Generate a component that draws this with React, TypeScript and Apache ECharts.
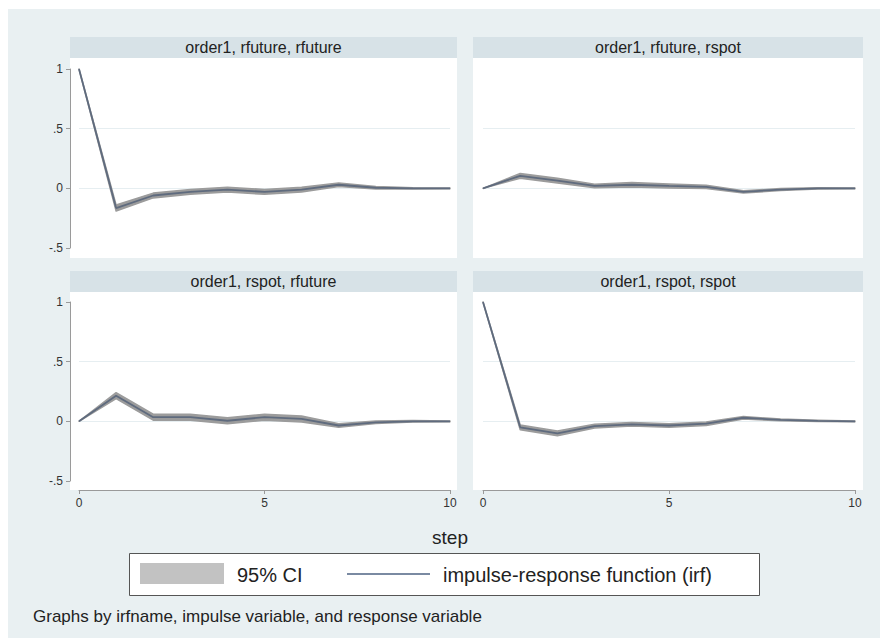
import React, { useEffect, useRef } from "react";
import * as echarts from "echarts";

const steps = [0, 1, 2, 3, 4, 5, 6, 7, 8, 9, 10];
const panelTitles = [
  "order1, rfuture, rfuture",
  "order1, rfuture, rspot",
  "order1, rspot, rfuture",
  "order1, rspot, rspot",
];

// order1, rfuture, rfuture
const irfFF = [1, -0.165, -0.06, -0.03, -0.01, -0.03, -0.01, 0.03, 0.005, 0, 0];
const loFF = [1, -0.19, -0.08, -0.05, -0.03, -0.05, -0.03, 0.015, -0.005, -0.005, -0.003];
const hiFF = [1, -0.14, -0.04, -0.01, 0.01, -0.01, 0.01, 0.045, 0.015, 0.005, 0.003];
// order1, rfuture, rspot
const irfFS = [0, 0.105, 0.065, 0.02, 0.03, 0.02, 0.012, -0.03, -0.01, 0, 0];
const loFS = [0, 0.085, 0.045, 0.005, 0.012, 0.003, -0.002, -0.04, -0.018, -0.005, -0.003];
const hiFS = [0, 0.125, 0.085, 0.035, 0.048, 0.037, 0.026, -0.02, -0.002, 0.005, 0.003];
// order1, rspot, rfuture
const irfSF = [0, 0.215, 0.035, 0.035, 0.005, 0.035, 0.02, -0.035, -0.008, 0, 0];
const loSF = [0, 0.19, 0.01, 0.01, -0.02, 0.01, -0.005, -0.05, -0.018, -0.006, -0.003];
const hiSF = [0, 0.24, 0.06, 0.06, 0.03, 0.06, 0.045, -0.02, 0.002, 0.006, 0.003];
// order1, rspot, rspot
const irfSS = [1, -0.05, -0.1, -0.04, -0.025, -0.035, -0.02, 0.03, 0.012, 0.004, 0];
const loSS = [1, -0.07, -0.12, -0.055, -0.04, -0.05, -0.035, 0.02, 0.004, -0.002, -0.003];
const hiSS = [1, -0.03, -0.08, -0.025, -0.01, -0.02, -0.005, 0.04, 0.02, 0.01, 0.003];

const legendLabels = ["95% CI", "impulse-response function (irf)"];
const footnote = "Graphs by irfname, impulse variable, and response variable";
const xTitle = "step";

const panels = [
  { irf: irfFF, lo: loFF, hi: hiFF },
  { irf: irfFS, lo: loFS, hi: hiFS },
  { irf: irfSF, lo: loSF, hi: hiSF },
  { irf: irfSS, lo: loSS, hi: hiSS },
];

const FONT = "'Liberation Sans', Arial, Helvetica, sans-serif";
const BG = "#e9f0f2";
const STRIP = "#d7e2e7";
const BAND = "#9c9c9c";
const LINE = "#5f6b7e";

const fmtY = (v: number) => {
  if (v === 0) return "0";
  return String(v).replace("0.", ".");
};

export default function App() {
  const ref = useRef<HTMLDivElement>(null);
  useEffect(() => {
    document.body.style.margin = "0";
    if (!ref.current) return;
    const chart = echarts.init(ref.current, null, { renderer: "svg" });

    const geo = [
      { left: 79, top: 69, width: 371, height: 179 },
      { left: 483, top: 69, width: 372, height: 179 },
      { left: 79, top: 302, width: 371, height: 179 },
      { left: 483, top: 302, width: 372, height: 179 },
    ];
    const plotReg = [
      { x: 70, y: 58, w: 387, h: 200 },
      { x: 473, y: 58, w: 390, h: 200 },
      { x: 70, y: 292, w: 387, h: 198 },
      { x: 473, y: 292, w: 390, h: 198 },
    ];

    const grids = geo.map((g) => ({ ...g, containLabel: false }));
    const xAxes = geo.map((_, i) => {
      const bottom = i >= 2;
      return {
        type: "value",
        gridIndex: i,
        min: 0,
        max: 10,
        interval: 5,
        offset: 9,
        axisLine: { show: bottom, onZero: false, lineStyle: { color: "#9a9a9a", width: 1 } },
        axisTick: { show: bottom, length: 4, lineStyle: { color: "#9a9a9a" } },
        axisLabel: {
          show: bottom,
          fontFamily: FONT,
          fontSize: 12,
          color: "#333",
          margin: 7,
        },
        splitLine: { show: false },
      };
    });
    const yAxes = geo.map((_, i) => {
      const left = i % 2 === 0;
      return {
        type: "value",
        gridIndex: i,
        min: -0.5,
        max: 1,
        interval: 0.5,
        offset: 9,
        axisLine: { show: left, onZero: false, lineStyle: { color: "#9a9a9a", width: 1 } },
        axisTick: { show: left, length: 4, lineStyle: { color: "#9a9a9a" } },
        axisLabel: {
          show: left,
          fontFamily: FONT,
          fontSize: 12,
          color: "#333",
          margin: 7,
          formatter: fmtY,
        },
        splitLine: {
          show: true,
          lineStyle: { color: ["transparent", "#e6eef1", "#e6eef1", "transparent"], width: 1 },
        },
      };
    });

    const series: any[] = [];
    panels.forEach((p, i) => {
      series.push({
        type: "custom",
        coordinateSystem: "cartesian2d",
        xAxisIndex: i,
        yAxisIndex: i,
        data: steps.map((s, k) => [s, p.lo[k], p.hi[k]]),
        encode: { x: 0, y: [1, 2] },
        silent: true,
        z: 2,
        renderItem: (params: any, api: any) => {
          if (params.dataIndex !== 0) return { type: "group", children: [] };
          const up = steps.map((s, k) => api.coord([s, p.hi[k]]));
          const dn = steps.map((s, k) => api.coord([s, p.lo[k]])).reverse();
          return {
            type: "polygon",
            shape: { points: up.concat(dn) },
            style: { fill: BAND, stroke: BAND, lineWidth: 1.5, lineJoin: "round" },
          };
        },
      });
      series.push({
        type: "line",
        xAxisIndex: i,
        yAxisIndex: i,
        data: steps.map((s, k) => [s, p.irf[k]]),
        symbol: "none",
        lineStyle: { width: 1.8, color: LINE },
        z: 3,
      });
    });

    const graphics: any[] = [
      {
        type: "rect",
        shape: { x: 8, y: 9, width: 872, height: 629 },
        style: { fill: BG },
        z: -10,
        silent: true,
      },
    ];
    plotReg.forEach((r, i) => {
      graphics.push({
        type: "rect",
        shape: { x: r.x, y: r.y, width: r.w, height: r.h },
        style: { fill: "#ffffff" },
        z: -9,
        silent: true,
      });
      graphics.push({
        type: "rect",
        shape: { x: r.x, y: r.y - 21, width: r.w, height: 21 },
        style: { fill: STRIP },
        z: -9,
        silent: true,
      });
      graphics.push({
        type: "text",
        x: r.x + r.w / 2,
        y: r.y - 10.5,
        style: {
          text: panelTitles[i],
          fill: "#222",
          font: `16px ${FONT}`,
          align: "center",
          verticalAlign: "middle",
        },
        z: 5,
      });
    });
    graphics.push({
      type: "text",
      x: 450,
      y: 537,
      style: {
        text: xTitle,
        fill: "#222",
        font: `19px ${FONT}`,
        align: "center",
        verticalAlign: "middle",
      },
    });
    graphics.push({
      type: "rect",
      shape: { x: 129.5, y: 553.5, width: 630, height: 42 },
      style: { fill: "#ffffff", stroke: "#555", lineWidth: 1 },
    });
    graphics.push({
      type: "rect",
      shape: { x: 140, y: 563, width: 84, height: 21 },
      style: { fill: "#c2c2c2" },
    });
    graphics.push({
      type: "text",
      x: 237,
      y: 575,
      style: {
        text: legendLabels[0],
        fill: "#222",
        font: `20px ${FONT}`,
        align: "left",
        verticalAlign: "middle",
      },
    });
    graphics.push({
      type: "line",
      shape: { x1: 347, y1: 574, x2: 430, y2: 574 },
      style: { stroke: "#7a8aa2", lineWidth: 2 },
    });
    graphics.push({
      type: "text",
      x: 443,
      y: 575,
      style: {
        text: legendLabels[1],
        fill: "#222",
        font: `20px ${FONT}`,
        align: "left",
        verticalAlign: "middle",
      },
    });
    graphics.push({
      type: "text",
      x: 33,
      y: 616,
      style: {
        text: footnote,
        fill: "#222",
        font: `17px ${FONT}`,
        align: "left",
        verticalAlign: "middle",
      },
    });

    chart.setOption({
      animation: false,
      backgroundColor: "#ffffff",
      grid: grids,
      xAxis: xAxes,
      yAxis: yAxes,
      series,
      graphic: graphics,
    });
    return () => chart.dispose();
  }, []);
  return <div ref={ref} style={{ width: 880, height: 638 }} />;
}
